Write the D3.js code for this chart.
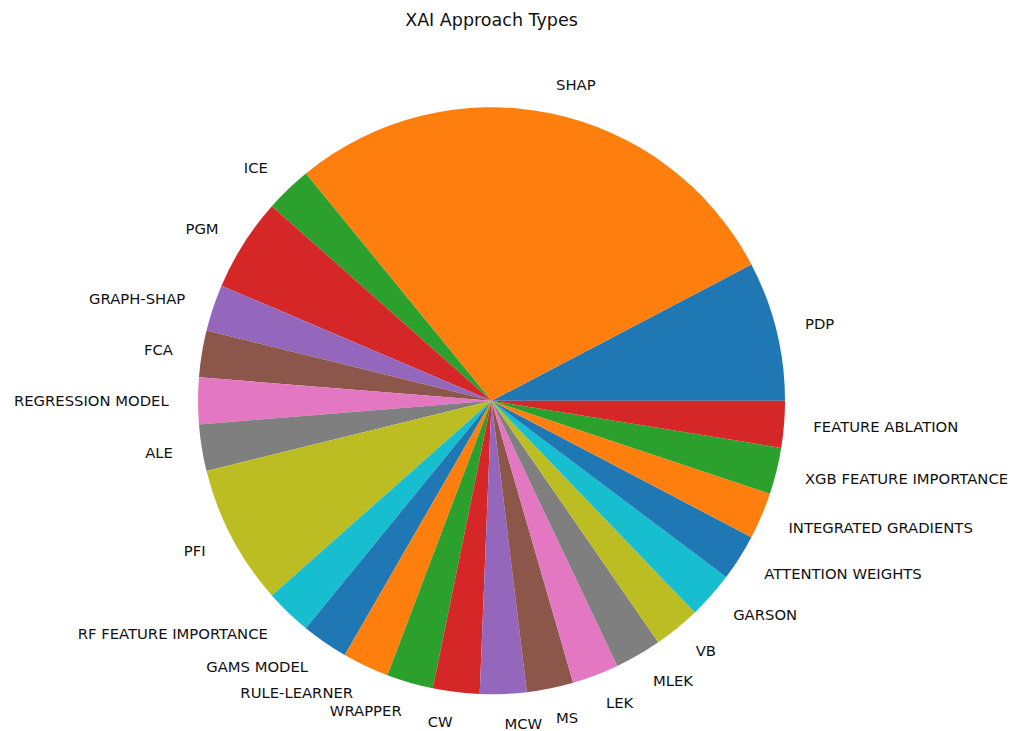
<!DOCTYPE html>
<html>
<head>
<meta charset="utf-8">
<script src="https://cdn.jsdelivr.net/npm/d3@7"></script>
<style>
  body { margin: 0; background: #fff; }
  svg { display: block; font-family: "DejaVu Sans", sans-serif; }
</style>
</head>
<body>
<svg id="chart"></svg>
<script>
const approaches = [
  "PDP", "SHAP", "ICE", "PGM", "GRAPH-SHAP", "FCA", "REGRESSION MODEL", "ALE",
  "PFI", "RF FEATURE IMPORTANCE", "GAMS MODEL", "RULE-LEARNER", "WRAPPER", "CW",
  "MCW", "MS", "LEK", "MLEK", "VB", "GARSON", "ATTENTION WEIGHTS",
  "INTEGRATED GRADIENTS", "XGB FEATURE IMPORTANCE", "FEATURE ABLATION"
];
const counts = [3, 11, 1, 2, 1, 1, 1, 1, 3, 1, 1, 1, 1, 1, 1, 1, 1, 1, 1, 1, 1, 1, 1, 1];
const tab10 = ["#1f77b4", "#ff7f0e", "#2ca02c", "#d62728", "#9467bd",
               "#8c564b", "#e377c2", "#7f7f7f", "#bcbd22", "#17becf"];

const width = 1021, height = 731;
const cx = 491.5, cy = 400.8, r = 293.5;

const svg = d3.select("#chart").attr("width", width).attr("height", height);

const data = approaches.map((name, i) => ({ name, value: counts[i], i }));

// matplotlib style: start at 3 o'clock, go counterclockwise
const pie = d3.pie()
  .value(d => d.value)
  .sort(null)
  .startAngle(Math.PI / 2)
  .endAngle(Math.PI / 2 - 2 * Math.PI);

const arcs = pie(data);
const arc = d3.arc().innerRadius(0).outerRadius(r);
const color = d3.scaleOrdinal().domain(d3.range(10)).range(tab10);

const g = svg.append("g").attr("transform", `translate(${cx},${cy})`);

g.selectAll("path")
  .data(arcs)
  .enter()
  .append("path")
  .attr("d", arc)
  .attr("fill", d => color(d.data.i % 10));

g.selectAll("text.label")
  .data(arcs)
  .enter()
  .append("text")
  .attr("class", "label")
  .attr("x", d => 1.1 * r * Math.sin((d.startAngle + d.endAngle) / 2))
  .attr("y", d => -1.1 * r * Math.cos((d.startAngle + d.endAngle) / 2))
  .attr("text-anchor", d => Math.sin((d.startAngle + d.endAngle) / 2) > 0 ? "start" : "end")
  .attr("dominant-baseline", "central")
  .attr("font-size", "14.8px")
  .attr("fill", "#111")
  .text(d => d.data.name);

svg.append("text")
  .attr("x", cx)
  .attr("y", 20)
  .attr("text-anchor", "middle")
  .attr("dominant-baseline", "central")
  .attr("font-size", "17.5px")
  .attr("fill", "#111")
  .text("XAI Approach Types");
</script>
</body>
</html>
